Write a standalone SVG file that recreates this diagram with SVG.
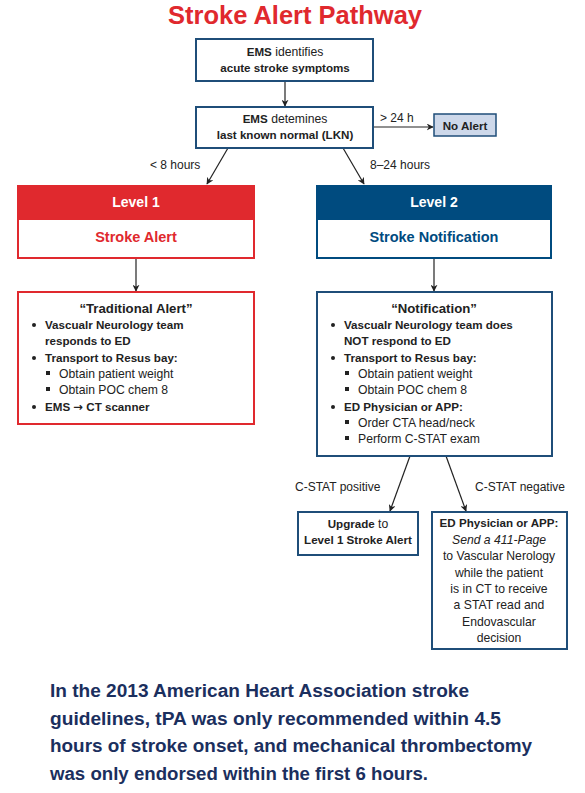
<svg xmlns="http://www.w3.org/2000/svg" width="585" height="793" viewBox="0 0 585 793">
<defs>
<marker id="ah" viewBox="0 0 10 10" refX="9" refY="5" markerWidth="7" markerHeight="7" orient="auto" markerUnits="userSpaceOnUse">
<path d="M0,0 L10,5 L0,10 L3,5 z" fill="#222"/>
</marker>
<style>
text{font-family:"Liberation Sans",Arial,sans-serif;fill:#222;}
.b{font-weight:bold;}
.box{fill:#fff;stroke:#1f4e79;stroke-width:2;}
.rbox{fill:#fff;stroke:#e0292e;stroke-width:2;}
.n{font-size:12.2px;}
.nb{font-size:11.6px;font-weight:bold;}
.c{text-anchor:middle;}
.lbl{font-size:12px;}
.edge{stroke:#222;stroke-width:1.2;fill:none;marker-end:url(#ah);}
.sq{fill:#222;}
.ar{font-family:"DejaVu Sans",sans-serif;font-weight:bold;}
</style>
</defs>
<rect width="585" height="793" fill="#fff"/>
<text x="295" y="24" class="b c" style="font-size:25.5px;fill:#e0292e" textLength="254" lengthAdjust="spacingAndGlyphs">Stroke Alert Pathway</text>

<g id="connectors">
<line class="edge" x1="285" y1="81" x2="285" y2="106"/>
<line class="edge" x1="373" y1="127" x2="433" y2="127"/>
<line class="edge" x1="228" y1="148" x2="207" y2="184"/>
<line class="edge" x1="343" y1="148" x2="364" y2="184"/>
<line class="edge" x1="136" y1="258" x2="136" y2="291"/>
<line class="edge" x1="434" y1="258" x2="434" y2="291"/>
<line class="edge" x1="410" y1="456" x2="390" y2="511"/>
<line class="edge" x1="446" y1="456" x2="466" y2="511"/>
<text x="380" y="122" class="lbl">&gt; 24 h</text>
<text x="150" y="169" class="lbl">&lt; 8 hours</text>
<text x="370" y="169" class="lbl">8–24 hours</text>
<text x="295" y="491" class="lbl">C-STAT positive</text>
<text x="475" y="491" class="lbl">C-STAT negative</text>
</g>

<g id="ems-identifies">
<rect class="box" x="196" y="39" width="177" height="42"/>
<text x="285" y="56" class="n c"><tspan class="b" style="font-size:11.6px">EMS</tspan> identifies</text>
<text x="285" y="72" class="nb c">acute stroke symptoms</text>
</g>

<g id="ems-determines">
<rect class="box" x="196" y="107" width="177" height="41"/>
<text x="285" y="123" class="n c"><tspan class="b" style="font-size:11.6px">EMS</tspan> detemines</text>
<text x="285" y="139" class="nb c">last known normal (LKN)</text>
</g>

<g id="no-alert">
<rect x="434" y="114" width="62" height="22" fill="#cdd8ea" stroke="#1f4e79" stroke-width="1.5"/>
<text x="465" y="129.5" class="nb c">No Alert</text>
</g>

<g id="level1">
<rect x="17" y="185" width="238" height="34" fill="#e0292e"/>
<rect class="rbox" x="18" y="219" width="236" height="39"/>
<text x="136" y="207" class="b c" style="font-size:14px;fill:#fff">Level 1</text>
<text x="136" y="242" class="b c" style="font-size:14.5px;fill:#e0292e">Stroke Alert</text>
</g>

<g id="level2">
<rect x="316" y="185" width="236" height="34" fill="#004b7f"/>
<rect x="317" y="219" width="234" height="39" fill="#fff" stroke="#004b7f" stroke-width="2"/>
<text x="434" y="207" class="b c" style="font-size:14px;fill:#fff">Level 2</text>
<text x="434" y="242" class="b c" style="font-size:14.5px;fill:#004b7f">Stroke Notification</text>
</g>

<g id="traditional-alert">
<rect class="rbox" x="18" y="292" width="236" height="132"/>
<text x="136" y="313" class="b c" style="font-size:13.2px">“Traditional Alert”</text>
<circle cx="34" cy="325" r="2" class="sq"/>
<text x="45" y="329" class="nb">Vascualr Neurology team</text>
<text x="45" y="345" class="nb">responds to ED</text>
<circle cx="34" cy="358" r="2" class="sq"/>
<text x="45" y="362" class="nb">Transport to Resus bay:</text>
<rect x="46" y="371" width="4" height="4" class="sq"/>
<text x="59" y="378" class="n">Obtain patient weight</text>
<rect x="46" y="387" width="4" height="4" class="sq"/>
<text x="59" y="394" class="n">Obtain POC chem 8</text>
<circle cx="34" cy="407" r="2" class="sq"/>
<text x="45" y="411" class="nb">EMS <tspan class="ar">→</tspan> CT scanner</text>
</g>

<g id="notification">
<rect class="box" x="317" y="292" width="235" height="164"/>
<text x="434" y="313" class="b c" style="font-size:13.2px">“Notification”</text>
<circle cx="333" cy="325" r="2" class="sq"/>
<text x="344" y="329" class="nb">Vascualr Neurology team does</text>
<text x="344" y="345" class="nb">NOT respond to ED</text>
<circle cx="333" cy="358" r="2" class="sq"/>
<text x="344" y="362" class="nb">Transport to Resus bay:</text>
<rect x="345" y="371" width="4" height="4" class="sq"/>
<text x="358" y="378" class="n">Obtain patient weight</text>
<rect x="345" y="387" width="4" height="4" class="sq"/>
<text x="358" y="394" class="n">Obtain POC chem 8</text>
<circle cx="333" cy="407" r="2" class="sq"/>
<text x="344" y="411" class="nb">ED Physician or APP:</text>
<rect x="345" y="420" width="4" height="4" class="sq"/>
<text x="358" y="427" class="n">Order CTA head/neck</text>
<rect x="345" y="436" width="4" height="4" class="sq"/>
<text x="358" y="443" class="n">Perform C-STAT exam</text>
</g>

<g id="upgrade">
<rect class="box" x="298" y="512" width="120" height="43"/>
<text x="358" y="528" class="n c"><tspan class="b" style="font-size:11.6px">Upgrade</tspan> to</text>
<text x="358" y="544" class="nb c">Level 1 Stroke Alert</text>
</g>

<g id="ed-physician">
<rect class="box" x="432" y="512" width="135" height="137"/>
<text x="499" y="527" class="nb c">ED Physician or APP:</text>
<text x="499" y="544" class="n c" font-style="italic">Send a 411-Page</text>
<text x="499" y="560" class="n c">to Vascular Nerology</text>
<text x="499" y="577" class="n c">while the patient</text>
<text x="499" y="593" class="n c">is in CT to receive</text>
<text x="499" y="609" class="n c">a STAT read and</text>
<text x="499" y="626" class="n c">Endovascular</text>
<text x="499" y="642" class="n c">decision</text>
</g>

<g id="footnote" style="font-size:18px;font-weight:bold">
<text x="50" y="697" style="fill:#1b2f5e" textLength="419" lengthAdjust="spacingAndGlyphs">In the 2013 American Heart Association stroke</text>
<text x="50" y="725" style="fill:#1b2f5e" textLength="451" lengthAdjust="spacingAndGlyphs">guidelines, tPA was only recommended within 4.5</text>
<text x="50" y="752" style="fill:#1b2f5e" textLength="482" lengthAdjust="spacingAndGlyphs">hours of stroke onset, and mechanical thrombectomy</text>
<text x="50" y="780" style="fill:#1b2f5e" textLength="378" lengthAdjust="spacingAndGlyphs">was only endorsed within the first 6 hours.</text>
</g>
</svg>
